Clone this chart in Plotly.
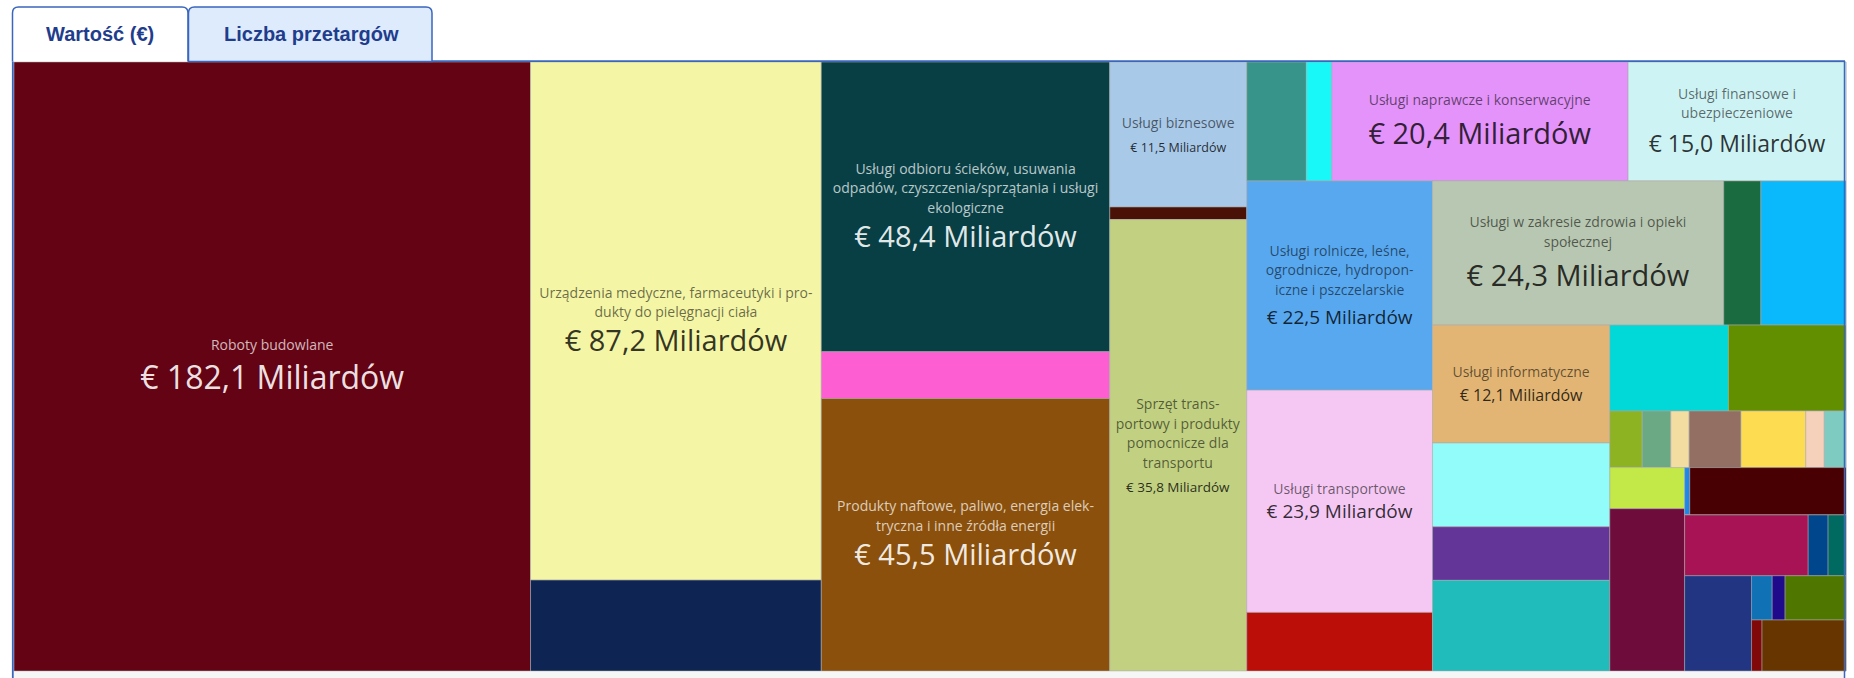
import plotly.graph_objects as go

W, H = 1854, 678
ML, MR, MT, MB = 14, 8, 62, 7

# kategorie CPV w kolejności układu (puste nazwy = małe kategorie bez podpisu)
sektory = [
    "Roboty budowlane",
    "Urządzenia medyczne, farmaceutyki i produkty do pielęgnacji ciała",
    "",
    "Usługi odbioru ścieków, usuwania odpadów, czyszczenia/sprzątania i usługi ekologiczne",
    "",
    "Produkty naftowe, paliwo, energia elektryczna i inne źródła energii",
    "Usługi biznesowe",
    "",
    "Sprzęt transportowy i produkty pomocnicze dla transportu",
    "", "",
    "Usługi naprawcze i konserwacyjne",
    "Usługi finansowe i ubezpieczeniowe",
    "Usługi rolnicze, leśne, ogrodnicze, hydroponiczne i pszczelarskie",
    "Usługi transportowe",
    "",
    "Usługi w zakresie zdrowia i opieki społecznej",
    "", "",
    "Usługi informatyczne",
    "", "", "", "", "",
    "", "", "", "", "", "", "",
    "", "", "", "",
    "", "", "",
    "", "", "", "", "", "",
]

# wartość w mld €
wartosci = [
    182.1, 87.2, 15.3, 48.4, 7.8, 45.5, 11.5, 1.0, 35.8,
    4.1, 1.75, 20.4, 15.0, 22.5, 23.9, 6.3, 24.3, 3.1, 7.1,
    12.1, 8.6, 5.5, 9.3, 5.9, 5.85,
    1.06, 0.94, 0.60, 1.70, 2.12, 0.61, 0.71,
    1.78, 7.03, 0.14, 4.28,
    4.35, 0.70, 0.63,
    3.69, 0.53, 0.33, 1.56, 0.31, 2.48,
]

kolory = [
    "#640314", "#f4f5a5", "#0e2452", "#083f45", "#fd5fd3", "#8a500c", "#a9c9e9", "#4a1106", "#c1d081",
    "#36948a", "#18f8f8", "#e393f9", "#cef3f5", "#58a8f0", "#f5c8f4", "#bb0e08", "#b8c7b1", "#1a6b3f", "#0ab9fb",
    "#e2b574", "#92fcfb", "#633599", "#20bbbb", "#00d9d7", "#618f00",
    "#8db322", "#6aa983", "#f3dda1", "#936e63", "#fedc52", "#f5d0bb", "#7ecbc2",
    "#c2e947", "#6e0c3c", "#1e88e8", "#480002",
    "#a81355", "#00468c", "#006a60",
    "#213582", "#1171b5", "#1f0a8c", "#4f7700", "#800808", "#673600",
]

# grupowanie ostatnich drobnych pól
grupy = [""] * 36 + ["g1"] * 3 + ["g2"] * 6

zakladki = ["Wartość (€)", "Liczba przetargów"]

# łamanie podpisów jak na oryginale
podpisy = {
    "Roboty budowlane": ["Roboty budowlane"],
    "Urządzenia medyczne, farmaceutyki i produkty do pielęgnacji ciała":
        ["Urządzenia medyczne, farmaceutyki i pro-", "dukty do pielęgnacji ciała"],
    "Usługi odbioru ścieków, usuwania odpadów, czyszczenia/sprzątania i usługi ekologiczne":
        ["Usługi odbioru ścieków, usuwania", "odpadów, czyszczenia/sprzątania i usługi", "ekologiczne"],
    "Produkty naftowe, paliwo, energia elektryczna i inne źródła energii":
        ["Produkty naftowe, paliwo, energia elek-", "tryczna i inne źródła energii"],
    "Usługi biznesowe": ["Usługi biznesowe"],
    "Sprzęt transportowy i produkty pomocnicze dla transportu":
        ["Sprzęt trans-", "portowy i produkty", "pomocnicze dla", "transportu"],
    "Usługi naprawcze i konserwacyjne": ["Usługi naprawcze i konserwacyjne"],
    "Usługi finansowe i ubezpieczeniowe": ["Usługi finansowe i", "ubezpieczeniowe"],
    "Usługi rolnicze, leśne, ogrodnicze, hydroponiczne i pszczelarskie":
        ["Usługi rolnicze, leśne,", "ogrodnicze, hydropon-", "iczne i pszczelarskie"],
    "Usługi transportowe": ["Usługi transportowe"],
    "Usługi w zakresie zdrowia i opieki społecznej": ["Usługi w zakresie zdrowia i opieki", "społecznej"],
    "Usługi informatyczne": ["Usługi informatyczne"],
}

# (rozmiar kwoty, odstęp w jednostkach linii, jasny tekst)
styl = {
    "Roboty budowlane": (32, 8, True),
    "Urządzenia medyczne, farmaceutyki i produkty do pielęgnacji ciała": (29, 7, False),
    "Usługi odbioru ścieków, usuwania odpadów, czyszczenia/sprzątania i usługi ekologiczne": (29, 7, True),
    "Produkty naftowe, paliwo, energia elektryczna i inne źródła energii": (29, 7, True),
    "Usługi biznesowe": (12.5, 5, False),
    "Sprzęt transportowy i produkty pomocnicze dla transportu": (13.5, 5, False),
    "Usługi naprawcze i konserwacyjne": (29, 8, False),
    "Usługi finansowe i ubezpieczeniowe": (23, 7, False),
    "Usługi rolnicze, leśne, ogrodnicze, hydroponiczne i pszczelarskie": (19, 6, False),
    "Usługi transportowe": (19, 5, False),
    "Usługi w zakresie zdrowia i opieki społecznej": (29, 8, False),
    "Usługi informatyczne": (16, 5, False),
}

BASE = 3.75  # mała czcionka bazowa -> krok linii ~4.9px


def px_x(x):
    return (x - ML) / (W - ML - MR)


def px_y(y):
    return (H - MB - y) / (H - MT - MB)


def path(points):
    out = []
    for cmd, pts in points:
        out.append(cmd + " ".join(f"{px_x(x):.5f},{px_y(y):.5f}" for x, y in pts))
    return " ".join(out)


def opis(nazwa, wartosc):
    if nazwa not in styl:
        return ""
    rozmiar, odstep, jasny = styl[nazwa]
    if jasny:
        kp, kw = "rgba(255,255,255,0.72)", "rgba(255,255,255,0.9)"
    else:
        kp, kw = "rgba(0,0,0,0.58)", "rgba(0,0,0,0.8)"
    linie = [f"<span style='font-size:14px;color:{kp}'>{l}</span>" for l in podpisy[nazwa]]
    kwota = f"€ {wartosc:.1f}".replace(".", ",") + " Miliardów"
    return ("<br>" * 4).join(linie) + "<br>" * odstep + \
        f"<span style='font-size:{rozmiar}px;color:{kw}'>{kwota}</span>"


def treemap_fig():
    ids, labels, parents, values, colors, texts = ["root"], [""], [""], [0], ["white"], [""]
    dodane = set()
    for i, (n, v, c, g) in enumerate(zip(sektory, wartosci, kolory, grupy)):
        if g and g not in dodane:
            dodane.add(g)
            ids.append(g)
            labels.append("")
            parents.append("root")
            values.append(0)
            colors.append(c)
            texts.append("")
        ids.append(f"k{i}")
        labels.append(n)
        parents.append(g if g else "root")
        values.append(v)
        colors.append(c)
        texts.append(opis(n, v))

    fig = go.Figure(go.Treemap(
        ids=ids,
        labels=labels,
        parents=parents,
        values=values,
        branchvalues="remainder",
        sort=False,
        texttemplate=texts,
        textposition="middle center",
        textfont=dict(family="Open Sans", size=BASE, color="#333"),
        marker=dict(colors=colors, line=dict(width=1, color="rgba(170,170,170,0.55)"),
                    pad=dict(t=0, l=0, r=0, b=0)),
        tiling=dict(packing="squarify", squarifyratio=1.75, pad=0),
        pathbar=dict(visible=False),
        hovertemplate="%{label}<br>%{value:.1f} mld €<extra></extra>",
        domain=dict(x=[0, 1], y=[0, 1]),
    ))

    blue = "#3a66bd"
    shapes = [
        dict(type="rect", x0=px_x(13.5), x1=px_x(1844.5), y0=px_y(678), y1=px_y(671.5),
             fillcolor="#f6f6f6", line=dict(width=0)),
        dict(type="path", path=path([("M", [(12.5, 61.5)]), ("L", [(12.5, 13)]),
                                     ("Q", [(12.5, 7), (18.5, 7)]), ("L", [(182, 7)]),
                                     ("Q", [(188, 7), (188, 13)]), ("L", [(188, 61.5)])]),
             fillcolor="white", line=dict(color=blue, width=1.5)),
        dict(type="path", path=path([("M", [(188.5, 61.5)]), ("L", [(188.5, 13)]),
                                     ("Q", [(188.5, 7), (194.5, 7)]), ("L", [(426, 7)]),
                                     ("Q", [(432, 7), (432, 13)]), ("L", [(432, 61.5)])]) + " Z",
             fillcolor="#deebfc", line=dict(color=blue, width=1.5)),
        dict(type="line", x0=px_x(432), x1=px_x(1845), y0=px_y(61.2), y1=px_y(61.2),
             line=dict(color=blue, width=1.8)),
        dict(type="line", x0=px_x(12.8), x1=px_x(12.8), y0=px_y(61.5), y1=px_y(678),
             line=dict(color=blue, width=1.8)),
        dict(type="line", x0=px_x(1844.5), x1=px_x(1844.5), y0=px_y(61.5), y1=px_y(678),
             line=dict(color=blue, width=1.5)),
    ]

    annotations = [
        dict(x=px_x(cx), y=px_y(34), xref="paper", yref="paper", text=f"<b>{t}</b>",
             showarrow=False, xanchor="center", yanchor="middle",
             font=dict(family="Liberation Sans, Arial", size=20, color="#1f3d8c"))
        for t, cx in zip(zakladki, [100.3, 311])
    ]

    fig.update_layout(
        width=W,
        height=H,
        autosize=False,
        margin=dict(l=ML, r=MR, t=MT, b=MB),
        paper_bgcolor="white",
        shapes=shapes,
        annotations=annotations,
        showlegend=False,
    )
    return fig


fig = treemap_fig()
fig.write_html(
    "out.html",
    config={"displayModeBar": False},
    post_script="document.body.style.margin='0px';document.body.style.overflow='hidden';",
)
